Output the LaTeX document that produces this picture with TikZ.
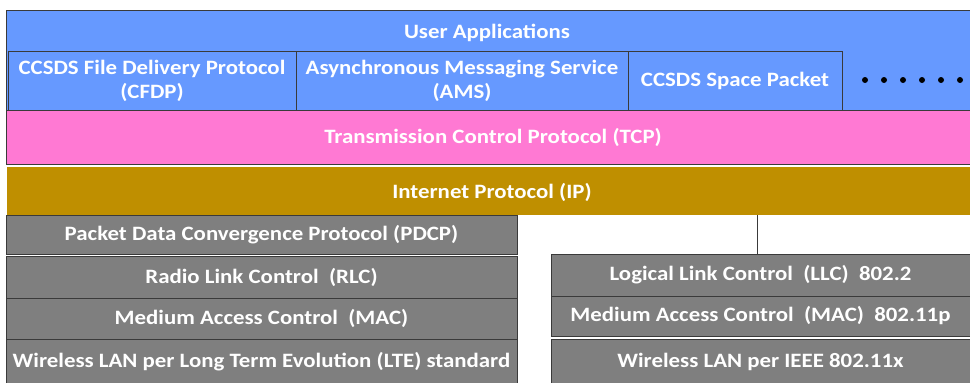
\documentclass[tikz,border=0pt]{standalone}
\usepackage{fontspec}
\setmainfont{Carlito}[FakeStretch=1.12]
\definecolor{ublue}{HTML}{6699FF}
\definecolor{upink}{HTML}{FF79D3}
\definecolor{ugold}{HTML}{BF8F00}
\definecolor{ugray}{HTML}{7F7F7F}
\definecolor{uline}{HTML}{3A3A3A}
\begin{document}
\begin{tikzpicture}[x=1pt,y=-1pt,
  box/.style={draw=uline,line width=0.8pt,anchor=north west,inner sep=0pt,outer sep=0pt,
    text=white,font=\fontsize{20.4}{24}\selectfont\bfseries,align=center},
  txt/.style={text=white,font=\fontsize{20.4}{24}\selectfont\bfseries,inner sep=0pt,align=center}]
\useasboundingbox (0,0) rectangle (970,383);
% user applications
\node[box,fill=ublue,minimum width=964pt,minimum height=100pt] (ua) at (6,10) {};
\node[txt] (uat) at (487,33) {User Applications};
\node[box,fill=ublue,minimum width=288pt,minimum height=59pt] (cfdp) at (8,51) {CCSDS File Delivery Protocol\\(CFDP)};
\node[box,fill=ublue,minimum width=332pt,minimum height=59pt] (ams) at (296,51) {Asynchronous Messaging Service\\(AMS)};
\node[box,fill=ublue,minimum width=214pt,minimum height=59pt] (csp) at (628,51) {CCSDS Space Packet};
\foreach \i/\xx in {1/865,2/884,3/903,4/922,5/941,6/960}
  \fill[black] (\xx,80) circle (3pt);
% TCP
\node[box,fill=upink,minimum width=964pt,minimum height=54pt] (tcp) at (6,110) {};
\node[txt] (tcpt) at (493,137) {Transmission Control Protocol (TCP)};
% IP
\node[box,draw=none,fill=ugold,minimum width=963pt,minimum height=48pt] (ip) at (7,167) {};
\node[txt] (ipt) at (492,192) {Internet Protocol (IP)};
% LTE stack
\node[box,fill=ugray,minimum width=511pt,minimum height=39pt] (pdcp) at (6,215) {Packet Data Convergence Protocol (PDCP)};
\node[box,fill=ugray,minimum width=511pt,minimum height=42pt] (rlc) at (6,256) {Radio Link Control\ \ (RLC)};
\node[box,fill=ugray,minimum width=511pt,minimum height=41pt] (mac) at (6,298) {Medium Access Control\ \ (MAC)};
\node[box,fill=ugray,minimum width=511pt,minimum height=45pt] (lte) at (6,339) {Wireless LAN per Long Term Evolution (LTE) standard};
% 802 stack
\node[box,fill=ugray,minimum width=419pt,minimum height=42pt] (llc) at (551,254) {Logical Link Control\ \ (LLC)\ \ 802.2};
\node[box,fill=ugray,minimum width=419pt,minimum height=40pt] (mac2) at (551,296) {Medium Access Control\ \ (MAC)\ \ 802.11p};
\node[box,fill=ugray,minimum width=419pt,minimum height=45pt] (wlan) at (551,339) {Wireless LAN per IEEE 802.11x};
\coordinate (c1) at (757,215);
\draw[uline,line width=0.8pt] (c1) -- (c1 |- llc.north);
\end{tikzpicture}
\end{document}
